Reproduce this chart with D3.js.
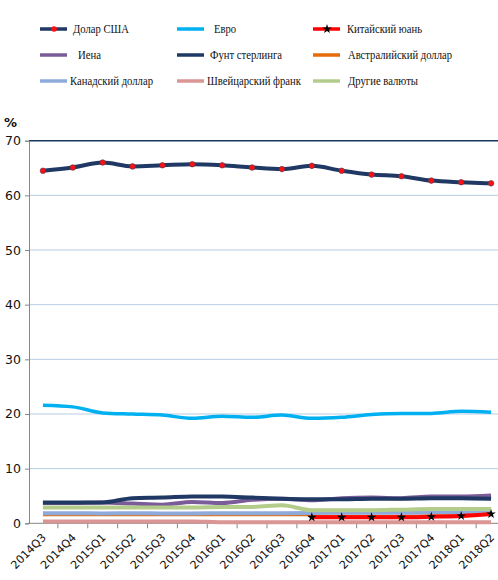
<!DOCTYPE html>
<html><head><meta charset="utf-8">
<script src="https://cdn.jsdelivr.net/npm/d3@7"></script>
<style>body{margin:0;background:#fff}svg{display:block}</style>
</head><body>
<svg id="c" width="498" height="580"></svg>
<script>
const quarters = ["2014Q3","2014Q4","2015Q1","2015Q2","2015Q3","2015Q4","2016Q1","2016Q2","2016Q3","2016Q4","2017Q1","2017Q2","2017Q3","2017Q4","2018Q1","2018Q2"];
const usd   = [64.5,65.1,66.0,65.3,65.5,65.7,65.5,65.1,64.8,65.4,64.5,63.8,63.5,62.7,62.4,62.2];
const eur   = [21.6,21.3,20.2,20.0,19.8,19.2,19.6,19.4,19.8,19.2,19.4,19.9,20.1,20.1,20.5,20.3];
const cny   = [null,null,null,null,null,null,null,null,null,1.1,1.1,1.1,1.1,1.2,1.35,1.7];
const jpy   = [3.7,3.7,3.8,3.6,3.4,3.9,3.7,4.3,4.5,4.2,4.6,4.7,4.6,4.9,4.9,5.1];
const gbp   = [3.8,3.8,3.8,4.6,4.7,4.9,4.9,4.7,4.5,4.4,4.4,4.5,4.5,4.6,4.6,4.5];
const aud   = [1.45,1.45,1.45,1.45,1.45,1.45,1.45,1.45,1.45,1.45,1.45,1.45,1.45,1.5,1.55,1.65];
const cad   = [1.85,1.85,1.8,1.85,1.8,1.8,1.85,1.85,1.85,1.9,1.95,1.95,1.95,2.0,2.0,2.0];
const chf   = [0.35,0.35,0.35,0.35,0.35,0.35,0.2,0.2,0.2,0.2,0.2,0.2,0.2,0.2,0.2,0.2];
const other = [2.9,2.9,2.9,2.9,2.9,2.9,3.0,3.0,3.3,2.4,2.4,2.4,2.5,2.6,2.6,2.6];
const yTicks = [0,10,20,30,40,50,60,70];
const legendNames = ["Долар США","Евро","Китайский юань","Иена","Фунт стерлинга","Австралийский доллар","Канадский доллар","Швейцарский франк","Другие валюты"];

const series = [
  {name:legendNames[0], v:usd, color:"#1f3864", w:4, marker:"usd"},
  {name:legendNames[1], v:eur, color:"#00b0f0", w:3.5},
  {name:legendNames[3], v:jpy, color:"#7a5c99", w:4},
  {name:legendNames[4], v:gbp, color:"#1f3864", w:4},
  {name:legendNames[5], v:aud, color:"#e46c0a", w:1.5},
  {name:legendNames[6], v:cad, color:"#8eaadb", w:4},
  {name:legendNames[7], v:chf, color:"#d99694", w:4},
  {name:legendNames[8], v:other, color:"#b3cc8a", w:4},
  {name:legendNames[2], v:cny, color:"#ff0000", w:4, marker:"cny"}
];

const svg = d3.select("#c");
const xb = d3.scaleBand().domain(quarters).range([28, 506]).padding(0);
const cx = q => xb(q) + xb.bandwidth()/2;
const y = d3.scaleLinear().domain([0,70]).range([523.3, 140.7]);

// gridlines
svg.append("g").selectAll("line").data(yTicks.filter(t=>t>0)).join("line")
  .attr("x1",29).attr("x2",498).attr("y1",d=>y(d)).attr("y2",d=>y(d))
  .attr("stroke",d=>d===70?"#17375e":"#b9cde5").attr("stroke-width",d=>d===70?1.5:1);

// y axis
const ya = svg.append("g").attr("transform","translate(29,0)")
  .call(d3.axisLeft(y).tickValues(yTicks).tickSize(4).tickPadding(4));
ya.select(".domain").attr("stroke","#868686");
ya.selectAll(".tick line").attr("stroke","#868686");
ya.selectAll("text").attr("font-family","DejaVu Sans").attr("font-size",12.5).attr("fill","#111");

// x axis
const xa = svg.append("g").attr("transform","translate(0,523.3)");
xa.append("line").attr("x1",28).attr("x2",498).attr("stroke","#868686");
xa.selectAll("line.t").data(quarters.slice(1)).join("line").attr("class","t")
  .attr("x1",d=>xb(d)).attr("x2",d=>xb(d)).attr("y1",0).attr("y2",5).attr("stroke","#868686");
xa.selectAll("text").data(quarters).join("text")
  .attr("transform",d=>`translate(${cx(d)-2},9) rotate(-45)`)
  .attr("text-anchor","end").attr("dy","0.75em")
  .attr("font-family","DejaVu Sans").attr("font-size",11.2).attr("fill","#111")
  .text(d=>d);

// % label
svg.append("text").attr("x",4).attr("y",127).attr("font-family","DejaVu Sans").attr("font-weight","bold")
  .attr("font-size",13).attr("fill","#111").text("%");
svg.append("text").attr("x",18).attr("y",127).attr("font-family","DejaVu Sans")
  .attr("font-size",7).attr("fill","#d8b070").text(":");

// lines
const line = d3.line().defined(d=>d.v!=null).x(d=>cx(d.q)).y(d=>y(d.v)).curve(d3.curveMonotoneX);
series.forEach(s=>{
  const pts = quarters.map((q,i)=>({q, v:s.v[i]}));
  svg.append("path").datum(pts).attr("d",line).attr("fill","none")
    .attr("stroke",s.color).attr("stroke-width",s.w).attr("stroke-linejoin","round");
  if(s.marker==="usd"){
    svg.append("g").selectAll("circle").data(pts).join("circle")
      .attr("cx",d=>cx(d.q)).attr("cy",d=>y(d.v)).attr("r",2.8)
      .attr("fill","#ff1010").attr("stroke","#4a3a5a").attr("stroke-width",0.6);
  }
  if(s.marker==="cny"){
    svg.append("g").selectAll("path").data(pts.filter(d=>d.v!=null)).join("path")
      .attr("transform",d=>`translate(${cx(d.q)},${y(d.v)})`)
      .attr("d",d3.symbol(d3.symbolStar,28)).attr("fill","#000");
  }
});

// legend layout
const legend = [
  {t:legendNames[0], c:"#1f3864", m:"usd", lx:40, ty:29, tx:73, tw:56},
  {t:legendNames[1], c:"#00b0f0", lx:177, ty:29, tx:214, tw:22},
  {t:legendNames[2], c:"#ff0000", m:"cny", lx:313, ty:29, tx:347, tw:75},
  {t:legendNames[3], c:"#7a5c99", lx:40, ty:55, tx:78, tw:23},
  {t:legendNames[4], c:"#1f3864", lx:177, ty:55, tx:210, tw:72},
  {t:legendNames[5], c:"#e46c0a", lx:313, ty:55, tx:348, tw:104},
  {t:legendNames[6], c:"#8eaadb", lx:40, ty:81, tx:70, tw:83},
  {t:legendNames[7], c:"#d99694", lx:177, ty:81, tx:207, tw:94},
  {t:legendNames[8], c:"#b3cc8a", lx:313, ty:81, tx:348, tw:70}
];
const lg = svg.append("g");
legend.forEach(l=>{
  lg.append("line").attr("x1",l.lx).attr("x2",l.lx+27).attr("y1",l.ty).attr("y2",l.ty)
    .attr("stroke",l.c).attr("stroke-width",3.5);
  if(l.m==="usd") lg.append("circle").attr("cx",l.lx+14).attr("cy",l.ty).attr("r",2.8).attr("fill","#ff1010");
  if(l.m==="cny") lg.append("path").attr("transform",`translate(${l.lx+14},${l.ty})`)
    .attr("d",d3.symbol(d3.symbolStar,28)).attr("fill","#000");
  lg.append("text").attr("x",l.tx).attr("y",l.ty).attr("dy","0.33em")
    .attr("style","font-family:'Liberation Serif','DejaVu Serif',serif;font-size:12.5px")
    .attr("textLength",l.tw).attr("lengthAdjust","spacingAndGlyphs")
    .attr("fill","#111").text(l.t);
});
</script>
</body></html>
